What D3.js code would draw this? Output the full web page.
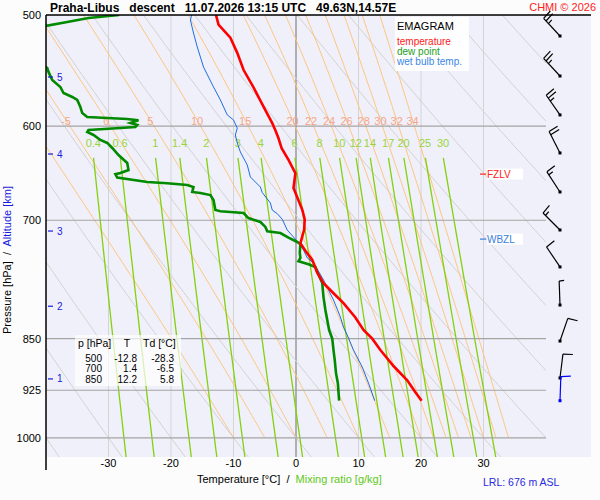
<!DOCTYPE html>
<html>
<head>
<meta charset="utf-8">
<script src="https://cdn.jsdelivr.net/npm/d3@7"></script>
<style>
body { margin: 0; background: #fcfcfc; }
text { font-family: "Liberation Sans", Arial, sans-serif; white-space: pre; }
</style>
</head>
<body>
<script>
// sounding (pressure hPa / temperature C)
let tempP = [500, 508, 519, 532, 547, 563, 581, 597, 604, 612, 622, 634, 648, 664, 674, 688, 699, 711, 727, 736, 747, 763, 776, 789, 802, 821, 838, 850, 866, 889, 910, 928, 941];
let tempT = [-12.8, -12.4, -10.5, -9.4, -8.4, -6.8, -5.2, -3.8, -3.3, -2.8, -2.3, -1.2, -0.1, -0.4, 0.2, 1.0, 1.4, 1.3, 0.7, 1.5, 2.6, 3.4, 4.4, 6.0, 7.6, 9.5, 10.8, 12.2, 13.5, 15.6, 17.8, 19.1, 20.1];

let dewP = [500, 502.5, 505.8, 509.1, 512.5, 537.6, 543.7, 545.4, 548.9, 556.2, 562.6, 568.2, 571.9, 574.7, 581.4, 587.2, 591, 592, 592.9, 594.3, 596.8, 598.8, 600.8, 601.8, 603.7, 605.7, 608.7, 613.7, 616.7, 621.8, 629, 637.3, 644.7, 647.8, 649.1, 652.8, 657.5, 658.8, 660.7, 662.9, 668.3, 669.5, 671.7, 677.2, 688.4, 689.8, 691.8, 697.5, 702, 707.7, 712.7, 714.8, 720.2, 725.4, 727.9, 738.6, 744.6, 748.6, 752.3, 755.7, 761.9, 775.9, 794, 811, 838.1, 850, 866.1, 880.4, 899.4, 914.3, 941];
let dewT = [-28.3, -33.2, -36.6, -40.1, -44, -44, -40.2, -39.8, -39.6, -39.0, -37.7, -37.2, -35.8, -35.0, -34.5, -34.2, -33.4, -30.2, -27.0, -25.2, -26.5, -25.4, -25.7, -28.1, -33.2, -33.4, -32.4, -31.3, -30.2, -29.4, -28.4, -27.0, -26.8, -28.1, -28.9, -28.6, -23.8, -20.6, -17.4, -16.4, -16.6, -15.3, -13.7, -13.2, -12.9, -12.1, -8.4, -7.6, -5.7, -4.9, -4.6, -2.5, -1.2, 0.2, 0.7, 0.6, 0.7, 0.4, 2.0, 3.1, 3.4, 4.2, 4.4, 4.7, 5.3, 5.8, 6.0, 6.2, 6.4, 6.7, 6.9];

let wetP = [500, 504.1, 515, 526.9, 544.5, 553.5, 562.6, 574.7, 589, 593.9, 601.8, 608.7, 616.7, 625.9, 639.4, 652.1, 662.9, 669, 680.5, 688.4, 692.5, 698.9, 711.3, 719.5, 726.6, 734.9, 744.6, 750.7, 772, 784.9, 797.8, 820.3, 833.9, 845, 866.1, 890.5, 914.3, 941];
let wetT = [-16.7, -16.9, -16.4, -15.8, -14.8, -14.0, -13.2, -12.1, -11.0, -10.0, -9.4, -9.7, -9.4, -8.9, -7.8, -7.3, -5.7, -5.4, -4.1, -3.8, -3.0, -2.2, -1.4, -0.4, 0.4, 1.2, 1.8, 2.8, 4.4, 5.2, 6.0, 7.1, 7.6, 8.2, 9.2, 10.6, 11.6, 12.6];

// axes / diagram families
let pressureTicks = [500, 600, 700, 850, 925, 1000];
let tempTicks = [-30, -20, -10, 0, 10, 20, 30];
let kmLevels = [1, 2, 3, 4, 5];
let kmPressure = [908, 806, 712.5, 628, 553.5];
let dryTheta = [-40, -30, -20, -10, 0, 10, 20, 30, 40, 50, 60, 70, 80, 90, 100];
let moistThw = [-10, -5, 0, 5, 10, 15, 20, 22, 24, 26, 28, 30, 32, 34];
let mixRatio = [0.4, 0.6, 1, 1.4, 2, 3, 4, 6, 8, 10, 12, 14, 17, 20, 25, 30];

// table
let tableP = ["500", "700", "850"];
let tableT = ["-12.8", "1.4", "12.2"];
let tableTd = ["-28.3", "-6.5", "5.8"];

// levels
let levelName = ["FZLV", "WBZL"];
let levelP = [649, 722];
let levelColor = ["#ff2020", "#3a7ee0"];

// wind (direction deg, speed kt)
let barbP = [517.5, 552.6, 589, 626.9, 668.3, 711.3, 755.7, 804.4, 853.3, 906.6, 941];
let barbDir = [317, 317, 325, 333, 327, 315, 326, 358, 19, 7, 2];
let barbSpd = [25, 25, 25, 20, 15, 15, 10, 5, 10, 10, 10];

const width = 600;
const height = 500;
const svg = d3.select("body").append("svg")
    .attr("width", width)
    .attr("height", height);

const x = d3.scaleLinear().domain([-40, 40]).range([46, 546]);
const y = d3.scaleLog().domain([500, 1032]).range([15, 457]);

svg.append("rect").attr("width", width).attr("height", height).attr("fill", "#fcfcfc");
svg.append("rect")
    .attr("x", 46).attr("y", 15)
    .attr("width", 545).attr("height", 442)
    .attr("fill", "#f0f0fa");

svg.append("clipPath").attr("id", "plot")
    .append("rect").attr("x", 46).attr("y", 15).attr("width", 500).attr("height", 442);

const grid = svg.append("g").attr("clip-path", "url(#plot)");
const line = d3.line().x(d => x(d[1])).y(d => y(d[0]));

// physics for the background curves
const Rd = 287.04, Cp = 1005.7, Lv = 2.501e6, eps = 0.622;
function es(tc) { return 6.112 * Math.exp(17.67 * tc / (tc + 243.5)); }
function lapse(p, T) {
    let e = es(T - 273.15);
    let rs = eps * e / (p - e);
    return (Rd * T + Lv * rs) / (Cp + Lv * Lv * rs * eps / (Rd * T * T)) / p;
}
function moistCurve(thw) {
    let T = thw + 273.15, p = 1000, dp = -2;
    let pts = [[p, thw]];
    while (p > 500) {
        let k1 = lapse(p, T);
        let k2 = lapse(p + dp / 2, T + dp / 2 * k1);
        let k3 = lapse(p + dp / 2, T + dp / 2 * k2);
        let k4 = lapse(p + dp, T + dp * k3);
        T += dp * (k1 + 2 * k2 + 2 * k3 + k4) / 6;
        p += dp;
        pts.push([p, T - 273.15]);
    }
    return pts;
}
function tdFromW(w, p) {
    let a = Math.log(w * p / (622 + w) / 6.112);
    return 243.5 * a / (17.67 - a);
}
function atP(pts, p) {
    for (let i = 1; i < pts.length; i++) {
        if (pts[i][0] <= p) {
            let f = (pts[i - 1][0] - p) / (pts[i - 1][0] - pts[i][0]);
            return pts[i - 1][1] + f * (pts[i][1] - pts[i - 1][1]);
        }
    }
    return pts[pts.length - 1][1];
}

// isotherms
tempTicks.forEach(t => {
    grid.append("line")
        .attr("x1", x(t)).attr("x2", x(t))
        .attr("y1", 15).attr("y2", 457)
        .attr("stroke", t == 0 ? "#8c8c8c" : "#d4d4d4")
        .attr("stroke-width", t == 0 ? 1.3 : 1);
});

// dry adiabats
let fullP = d3.range(500, 1036, 4);
dryTheta.forEach(th => {
    let pts = fullP.map(p => [p, (th + 273.15) * Math.pow(p / 1000, Rd / Cp) - 273.15]);
    grid.append("path").attr("d", line(pts))
        .attr("fill", "none").attr("stroke", "#d2d2d2").attr("stroke-width", 1);
});

// moist adiabats
let moistCurves = moistThw.map(moistCurve);
moistCurves.forEach(pts => {
    grid.append("path").attr("d", line(pts))
        .attr("fill", "none").attr("stroke", "#ffc47c").attr("stroke-width", 1);
});

// mixing ratio lines
let mixP = d3.range(632, 1036, 4);
mixRatio.forEach(w => {
    let pts = mixP.map(p => [p, tdFromW(w, p)]);
    grid.append("path").attr("d", line(pts))
        .attr("fill", "none").attr("stroke", "#84d00c").attr("stroke-width", 1.3);
});

// isobars
pressureTicks.slice(1).forEach(p => {
    svg.append("line")
        .attr("x1", 46).attr("x2", 546)
        .attr("y1", y(p)).attr("y2", y(p))
        .attr("stroke", "#a4a4a4").attr("stroke-width", 1.2);
});

// labels of the families
moistThw.forEach((thw, i) => {
    let t = atP(moistCurves[i], 594);
    if (thw < -5 || t < -39 || t > 39) return;
    svg.append("text")
        .attr("x", x(t)).attr("y", 125)
        .attr("text-anchor", "middle")
        .attr("font-size", 11).attr("fill", "#f5a68a")
        .text(thw);
});
mixRatio.forEach(w => {
    svg.append("text")
        .attr("x", x(tdFromW(w, 630))).attr("y", 147)
        .attr("text-anchor", "middle")
        .attr("font-size", 11).attr("fill", "#9ad43a")
        .text(w);
});

// profiles
const prof = svg.append("g").attr("clip-path", "url(#plot)");
prof.append("path").attr("d", line(wetP.map((p, i) => [p, wetT[i]])))
    .attr("fill", "none").attr("stroke", "#1c6ee0").attr("stroke-width", 1);
prof.append("path").attr("d", line(dewP.map((p, i) => [p, dewT[i]])))
    .attr("fill", "none").attr("stroke", "#008a00").attr("stroke-width", 2.6);
prof.append("path").attr("d", line(tempP.map((p, i) => [p, tempT[i]])))
    .attr("fill", "none").attr("stroke", "#ff0000").attr("stroke-width", 2.6);

// freezing / wet bulb zero levels
levelName.forEach((n, i) => {
    let yy = y(levelP[i]);
    svg.append("rect").attr("x", 487).attr("y", yy - 5.5).attr("width", 36).attr("height", 11).attr("fill", "#fff");
    svg.append("line").attr("x1", 480).attr("x2", 486).attr("y1", yy).attr("y2", yy)
        .attr("stroke", levelColor[i]).attr("stroke-width", 1.2);
    svg.append("text").attr("x", 487).attr("y", yy + 3.8)
        .attr("font-size", 10).attr("fill", levelColor[i]).text(n);
});

// axes frame
svg.append("line").attr("x1", 46).attr("x2", 591).attr("y1", 15).attr("y2", 15)
    .attr("stroke", "#000").attr("stroke-width", 1.5);
svg.append("line").attr("x1", 46).attr("x2", 46).attr("y1", 15).attr("y2", 470)
    .attr("stroke", "#000").attr("stroke-width", 1.5);

pressureTicks.forEach(p => {
    svg.append("text").attr("x", 41).attr("y", y(p) + 4)
        .attr("text-anchor", "end").attr("font-size", 11).attr("fill", "#000")
        .text(p);
});
tempTicks.forEach(t => {
    svg.append("text").attr("x", x(t)).attr("y", 467)
        .attr("text-anchor", "middle").attr("font-size", 11).attr("fill", "#000")
        .text(t);
});
kmLevels.forEach((k, i) => {
    let yy = y(kmPressure[i]);
    svg.append("line").attr("x1", 48).attr("x2", 53).attr("y1", yy).attr("y2", yy)
        .attr("stroke", "#1a1ae0").attr("stroke-width", 1.2);
    svg.append("text").attr("x", 57).attr("y", yy + 3.5)
        .attr("font-size", 10).attr("fill", "#1a1ae0").text(k);
});

// axis titles
const yl = svg.append("text")
    .attr("transform", "translate(11,260) rotate(-90)")
    .attr("text-anchor", "middle").attr("font-size", 11);
yl.append("tspan").attr("fill", "#000").text("Pressure [hPa]  /  ");
yl.append("tspan").attr("fill", "#1a1ae0").text("Altitude [km]");

const xl = svg.append("text").attr("x", 197).attr("y", 483).attr("font-size", 11);
xl.append("tspan").attr("fill", "#000").text("Temperature [°C]  /  ");
xl.append("tspan").attr("fill", "#60c820").text("Mixing ratio [g/kg]");

svg.append("text").attr("x", 483).attr("y", 486)
    .attr("font-size", 10.5).attr("fill", "#2a2ae0").text("LRL: 676 m ASL");

// title
svg.append("text").attr("x", 50).attr("y", 12)
    .attr("font-size", 12).attr("font-weight", "bold").attr("fill", "#000")
    .text("Praha-Libus   descent   11.07.2026 13:15 UTC   49.63N,14.57E");
svg.append("text").attr("x", 596).attr("y", 11)
    .attr("text-anchor", "end").attr("font-size", 11).attr("fill", "#ff2020")
    .text("CHMI © 2026");

// legend
svg.append("rect").attr("x", 395).attr("y", 17).attr("width", 74).attr("height", 54)
    .attr("fill", "#fff").attr("opacity", 0.9);
svg.append("text").attr("x", 397).attr("y", 30).attr("font-size", 11).attr("fill", "#000").text("EMAGRAM");
svg.append("text").attr("x", 397).attr("y", 45).attr("font-size", 10).attr("fill", "#ff2020").text("temperature");
svg.append("text").attr("x", 397).attr("y", 55).attr("font-size", 10).attr("fill", "#22a022").text("dew point");
svg.append("text").attr("x", 397).attr("y", 65).attr("font-size", 10).attr("fill", "#3a86e8").text("wet bulb temp.");

// table
svg.append("rect").attr("x", 75).attr("y", 335).attr("width", 106).attr("height", 51)
    .attr("fill", "#fff").attr("opacity", 0.7);
svg.append("text").attr("x", 78).attr("y", 347).attr("font-size", 10.5).text("p [hPa]");
svg.append("text").attr("x", 127).attr("y", 347).attr("text-anchor", "middle").attr("font-size", 10.5).text("T");
svg.append("text").attr("x", 143).attr("y", 347).attr("font-size", 10.5).text("Td [°C]");
tableP.forEach((p, i) => {
    let yy = 361.5 + i * 10.5;
    svg.append("text").attr("x", 102).attr("y", yy).attr("text-anchor", "end").attr("font-size", 10).text(p);
    svg.append("text").attr("x", 137).attr("y", yy).attr("text-anchor", "end").attr("font-size", 10).text(tableT[i]);
    svg.append("text").attr("x", 174).attr("y", yy).attr("text-anchor", "end").attr("font-size", 10).text(tableTd[i]);
});

// wind barbs
const barbs = svg.append("g");
barbP.forEach((p, i) => {
    let cx = 560, cy = y(p);
    let col = i == barbP.length - 1 ? "#0000ff" : "#000";
    let d = barbDir[i] * Math.PI / 180;
    let sx = Math.sin(d), sy = -Math.cos(d);
    let f = (barbDir[i] + 85) * Math.PI / 180;
    let fx = Math.sin(f), fy = -Math.cos(f);
    let L = 24;
    barbs.append("line")
        .attr("x1", cx).attr("y1", cy).attr("x2", cx + sx * L).attr("y2", cy + sy * L)
        .attr("stroke", col).attr("stroke-width", 1.2);
    let spd = barbSpd[i], pos = L;
    while (spd >= 5) {
        let len = spd >= 10 ? 10 : 5;
        barbs.append("line")
            .attr("x1", cx + sx * pos).attr("y1", cy + sy * pos)
            .attr("x2", cx + sx * pos + fx * len).attr("y2", cy + sy * pos + fy * len)
            .attr("stroke", col).attr("stroke-width", 1.2);
        spd -= len;
        pos -= 3.5;
    }
    barbs.append("rect").attr("x", cx - 1.5).attr("y", cy - 1.5).attr("width", 3).attr("height", 3).attr("fill", col);
});
</script>
</body>
</html>
